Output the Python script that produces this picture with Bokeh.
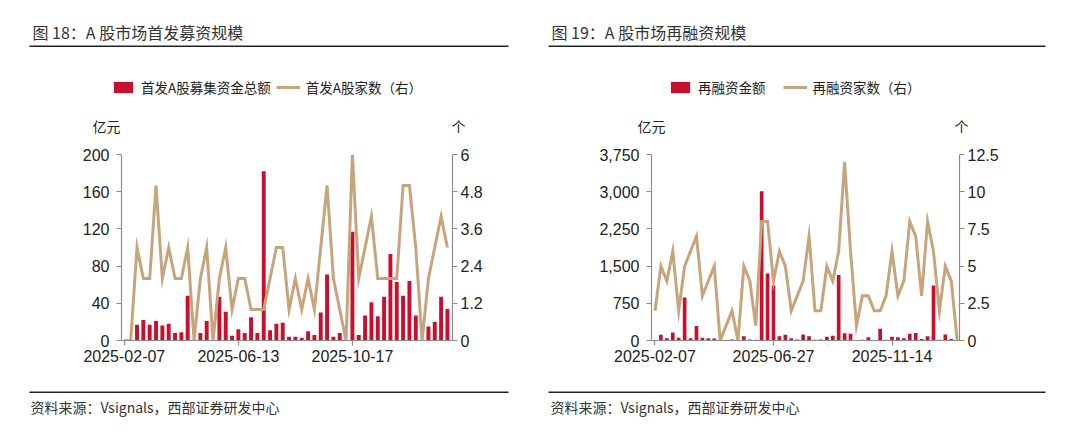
from bokeh.plotting import figure
from bokeh.models import (Range1d, LinearAxis, FixedTicker, NumeralTickFormatter,
                          Legend, LegendItem, ColumnDataSource)
from bokeh.layouts import column, row
from bokeh.embed import file_html
from bokeh.resources import INLINE
from bokeh.core.properties import value

# ---------------- data ----------------
weeks = ["2025-02-07", "2025-02-14", "2025-02-21", "2025-02-28", "2025-03-07", "2025-03-14",
         "2025-03-21", "2025-03-28", "2025-04-04", "2025-04-11", "2025-04-18", "2025-04-25",
         "2025-05-02", "2025-05-09", "2025-05-16", "2025-05-23", "2025-05-30", "2025-06-06",
         "2025-06-13", "2025-06-20", "2025-06-27", "2025-07-04", "2025-07-11", "2025-07-18",
         "2025-07-25", "2025-08-01", "2025-08-08", "2025-08-15", "2025-08-22", "2025-08-29",
         "2025-09-05", "2025-09-12", "2025-09-19", "2025-09-26", "2025-10-03", "2025-10-10",
         "2025-10-17", "2025-10-24", "2025-10-31", "2025-11-07", "2025-11-14", "2025-11-21",
         "2025-11-28", "2025-12-05", "2025-12-12", "2025-12-19", "2025-12-26", "2026-01-02",
         "2026-01-09", "2026-01-16", "2026-01-23", "2026-01-30"]

# Fig 18: IPO amount (亿元) and number of IPOs (right axis)
ipo_amount = [0, 0, 17, 22, 17, 21, 16, 18, 8, 9,
              48, 0, 8, 21, 0, 47, 31, 5, 12, 8,
              25, 8, 182, 11, 18, 19, 4, 4, 3, 10,
              6, 30, 71, 4, 8, 0, 117, 6, 27, 41,
              26, 47, 93, 63, 48, 64, 27, 0, 15, 20,
              47, 34]
ipo_count = [0, 0, 3, 2, 2, 5, 2, 3, 2, 2,
             3, 0, 2, 3, 0, 2, 3, 1, 2, 2,
             1, 1, 1, 2, 3, 3, 1, 2, 1, 2,
             1, 3, 5, 2, 1, 0, 6, 2, 3, 4,
             2, 2, 2, 2, 5, 5, 3, 0, 2, 3,
             4, 3]

# Fig 19: refinancing amount (亿元) and number (right axis)
refi_amount = [10, 114, 47, 162, 54, 869, 47, 290, 54, 47,
               40, 0, 5, 20, 0, 88, 20, 13, 3010, 1353,
               1111, 88, 114, 47, 20, 121, 88, 13, 20, 74,
               94, 1320, 148, 135, 0, 13, 67, 0, 236, 13,
               74, 67, 47, 135, 150, 30, 88, 1111, 16, 121,
               30, 0]
refi_count = [2, 5, 4, 6, 2, 5, 6, 7, 3, 4,
              5, 0, 1, 2, 0, 5, 4, 1, 8, 8,
              4, 6, 5, 2, 3, 4, 7, 2, 2, 5,
              4, 6, 12, 6, 1, 3, 3, 2, 2, 3,
              6, 3, 4, 8, 7, 3, 8, 6, 2, 5,
              4, 0]

titles = ["图 18：A 股市场首发募资规模", "图 19：A 股市场再融资规模"]
legend_names_18 = ["首发A股募集资金总额", "首发A股家数（右）"]
legend_names_19 = ["再融资金额", "再融资家数（右）"]
unit_labels = ["亿元", "个", "亿元", "个"]
source_text = "资料来源：Vsignals，西部证券研发中心"
left_ticks_18 = [0, 40, 80, 120, 160, 200]
right_ticks_18 = [0, 1.2, 2.4, 3.6, 4.8, 6]
left_ticks_19 = [0, 750, 1500, 2250, 3000, 3750]
right_ticks_19 = [0, 2.5, 5, 7.5, 10, 12.5]
xtick_idx_18 = [0, 18, 36]
xtick_idx_19 = [0, 20, 40]

# ---------------- styles ----------------
RED = "#C8102E"
TAN = "#C6A47C"
AXIS = "#8C8C8C"
TXT = "#222222"
CJK = "Noto Sans CJK SC"
NUM = "Liberation Sans"
W, H = 1080, 434
HDR_H, CHART_H = 135, 245
FTR_H = H - HDR_H - CHART_H


def make_chart(amount, count, xt_idx, lt, rt, lfmt, rfmt, x0, x1, border_left, border_right):
    src = ColumnDataSource(dict(x=list(range(len(weeks))), week=weeks,
                                amount=amount, count=count))
    p = figure(width=W // 2, height=CHART_H, output_backend="svg", toolbar_location=None,
               x_range=Range1d(x0, x1), y_range=Range1d(lt[0], lt[-1]),
               min_border_left=border_left, min_border_right=border_right,
               min_border_top=19, min_border_bottom=40)
    p.outline_line_color = None
    p.xgrid.visible = False
    p.ygrid.visible = False
    p.extra_y_ranges = {"right": Range1d(rt[0], rt[-1])}

    p.vbar(x="x", top="amount", width=0.62, source=src, fill_color=RED, line_color=None)
    p.line(x="x", y="count", source=src, y_range_name="right",
           line_color=TAN, line_width=3, line_join="miter")

    xa = p.xaxis[0]
    xa.ticker = FixedTicker(ticks=xt_idx)
    xa.major_label_overrides = {i: weeks[i] for i in xt_idx}
    ya = p.yaxis[0]
    ya.ticker = FixedTicker(ticks=lt)
    ya.formatter = NumeralTickFormatter(format=lfmt)
    ra = LinearAxis(y_range_name="right", ticker=FixedTicker(ticks=rt),
                    formatter=NumeralTickFormatter(format=rfmt))
    p.add_layout(ra, "right")
    for ax in (xa, ya, ra):
        ax.minor_tick_line_color = None
        ax.axis_line_color = AXIS
        ax.axis_line_width = 1.2
        ax.major_tick_line_color = AXIS
        ax.major_tick_line_width = 1.2
        ax.major_tick_in = 0
        ax.major_tick_out = 5
        ax.major_label_text_font = NUM
        ax.major_label_text_font_size = "16px"
        ax.major_label_text_color = TXT
    xa.major_label_standoff = 4
    ya.major_label_standoff = 7
    ra.major_label_standoff = 3
    return p


c18 = make_chart(ipo_amount, ipo_count, xtick_idx_18, left_ticks_18, right_ticks_18,
                 "0", "0.[0]", -0.45, 51.8, 121, 88)
c19 = make_chart(refi_amount, refi_count, xtick_idx_19, left_ticks_19, right_ticks_19,
                 "0,0", "0.[0]", -0.59, 51.39, 111, 121)

# ---------------- header: titles, rules, legends, units ----------------
hdr = figure(width=W, height=HDR_H, output_backend="svg", toolbar_location=None,
             x_range=Range1d(0, W), y_range=Range1d(HDR_H, 0),
             x_axis_type=None, y_axis_type=None, min_border=0)
hdr.outline_line_color = None
hdr.text(x=[32, 551], y=[31, 31], text=titles, text_font=value(CJK),
         text_font_size="16px", text_color="#333333", text_baseline="middle")
hdr.segment(x0=[29, 548], x1=[508, 1045], y0=[45.7, 45.7], y1=[45.7, 45.7],
            line_color="#222222", line_width=1.6)
hdr.text(x=[92, 458, 637, 961], y=[125, 125, 125, 125], text=unit_labels,
         text_font=value(CJK), text_font_size="14px", text_color=TXT,
         text_baseline="middle", text_align=["left", "center", "left", "center"])

# legend keys styled like the chart glyphs (zero-height bar / single point: nothing drawn)
bar_key = hdr.vbar(x=[0], bottom=[0], top=[0], width=1, fill_color=RED, line_color=None)
line_key = hdr.line(x=[0], y=[0], line_color=TAN, line_width=3)


def make_legend(names, lx, gap):
    return Legend(items=[LegendItem(label=names[0], renderers=[bar_key]),
                         LegendItem(label=names[1], renderers=[line_key])],
                  orientation="horizontal", location=(lx, HDR_H - 97),
                  border_line_color=None, background_fill_alpha=0,
                  padding=0, margin=0, spacing=gap, glyph_width=24, glyph_height=14,
                  label_standoff=6, label_text_font=CJK, label_text_font_size="13.5px",
                  label_text_color=TXT)


hdr.add_layout(make_legend(legend_names_18, 111, 5))
hdr.add_layout(make_legend(legend_names_19, 668, 17))

# ---------------- footer: rules and source ----------------
ftr = figure(width=W, height=FTR_H, output_backend="svg", toolbar_location=None,
             x_range=Range1d(0, W), y_range=Range1d(FTR_H, 0),
             x_axis_type=None, y_axis_type=None, min_border=0)
ftr.outline_line_color = None
ftr.segment(x0=[29, 548], x1=[508, 1045], y0=[11.7, 11.7], y1=[11.7, 11.7],
            line_color="#222222", line_width=1.6)
ftr.text(x=[30, 550], y=[26, 26], text=[source_text, source_text], text_font=value(CJK),
         text_font_size="14px", text_color="#333333", text_baseline="middle")

layout = column(hdr, row(c18, c19), ftr)
open("out.html", "w").write(file_html(layout, INLINE))
